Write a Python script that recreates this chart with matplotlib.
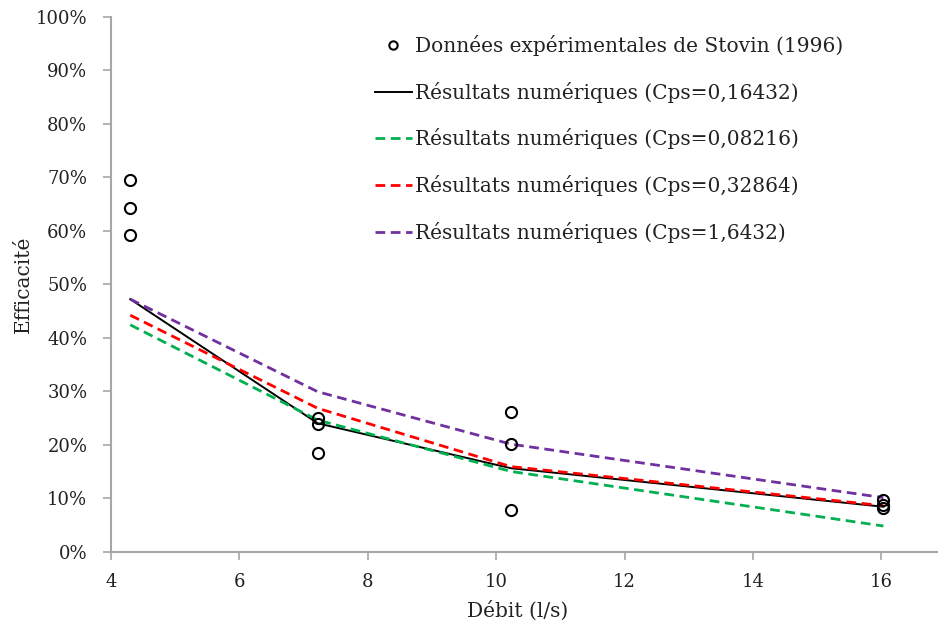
import matplotlib
matplotlib.use("Agg")
import matplotlib.pyplot as plt
from matplotlib.ticker import FuncFormatter

plt.rcParams['font.family'] = ['DejaVu Serif']

# Experimental data (Stovin 1996)
exp_x = [4.3, 4.3, 4.3, 7.22, 7.22, 7.22, 10.23, 10.23, 10.23, 16.03, 16.03, 16.03]
exp_y = [0.695, 0.642, 0.592, 0.249, 0.239, 0.184, 0.261, 0.201, 0.077, 0.096, 0.088, 0.082]

# Numerical results
num_x = [4.3, 7.22, 10.23, 16.03]
cps_016432 = [0.472, 0.240, 0.156, 0.084]
cps_008216 = [0.424, 0.246, 0.150, 0.048]
cps_032864 = [0.442, 0.268, 0.159, 0.086]
cps_16432 = [0.472, 0.299, 0.201, 0.101]

labels = ["Données expérimentales de Stovin (1996)",
          "Résultats numériques (Cps=0,16432)",
          "Résultats numériques (Cps=0,08216)",
          "Résultats numériques (Cps=0,32864)",
          "Résultats numériques (Cps=1,6432)"]

x_ticks = [4, 6, 8, 10, 12, 14, 16]
y_ticks = [0, 0.1, 0.2, 0.3, 0.4, 0.5, 0.6, 0.7, 0.8, 0.9, 1.0]

fig = plt.figure(figsize=(9.38, 6.28), dpi=100)
ax = fig.add_axes([0.1183, 0.1215, 0.8817, 0.852])

ax.plot(exp_x, exp_y, linestyle='none', marker='o', markersize=8,
        markerfacecolor='none', markeredgecolor='black', markeredgewidth=1.5,
        label=labels[0], zorder=5)
ax.plot(num_x, cps_016432, color='black', lw=1.4, label=labels[1])
ax.plot(num_x, cps_008216, color='#00B050', lw=2, dashes=(3.5, 2), label=labels[2])
ax.plot(num_x, cps_032864, color='#FF0000', lw=2, dashes=(3.5, 2), label=labels[3])
ax.plot(num_x, cps_16432, color='#7030A0', lw=2, dashes=(3.5, 2), label=labels[4])

ax.set_xlim(4, 16.88)
ax.set_ylim(0, 1.0)
ax.set_xticks(x_ticks)
ax.set_yticks(y_ticks)
ax.yaxis.set_major_formatter(FuncFormatter(lambda v, p: f"{v*100:.0f}%"))

for s in ['top', 'right']:
    ax.spines[s].set_visible(False)
for s in ['left', 'bottom']:
    ax.spines[s].set_color('#A6A6A6')
    ax.spines[s].set_linewidth(1.5)
ax.tick_params(axis='both', direction='out', length=6, width=1.2, color='#A6A6A6',
               labelsize=13, labelcolor='#222222')
ax.tick_params(axis='y', pad=11)
ax.tick_params(axis='x', pad=9)

ax.set_xlabel("Débit (l/s)", fontsize=14.5, color='#222222')
ax.set_ylabel("Efficacité", fontsize=14.5, color='#222222')
ax.xaxis.set_label_coords(0.492, -0.092)
ax.yaxis.set_label_coords(-0.094, 0.5)

leg = ax.legend(loc='upper left', bbox_to_anchor=(0.319, 0.966), frameon=False,
                fontsize=14.5, handlelength=1.84, handletextpad=0.15,
                labelspacing=1.28, borderaxespad=0, borderpad=0, markerscale=0.75)
for t in leg.get_texts():
    t.set_color('#222222')

fig.savefig("out.png", dpi=100)
